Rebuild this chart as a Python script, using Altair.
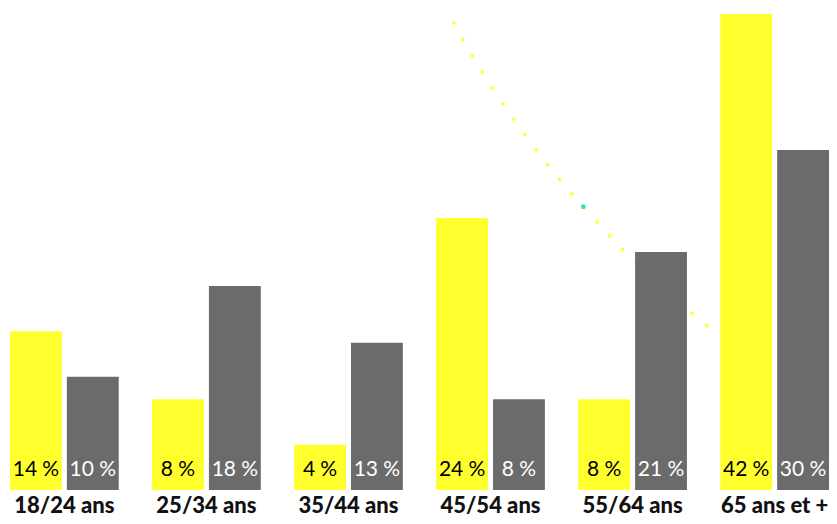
import altair as alt
import pandas as pd

categories = ["18/24 ans", "25/34 ans", "35/44 ans", "45/54 ans", "55/64 ans", "65 ans et +"]
series_names = ["Série 1", "Série 2"]
values_1 = [14, 8, 4, 24, 8, 42]
values_2 = [10, 18, 13, 8, 21, 30]

# decorative dotted curve, in (category index, percent) units
trend_x = [2.677, 2.874, 3.016, 3.248, 3.409, 3.653, 3.833, 4.018, 4.419, 4.521, 5.397]
trend_y = [42.68, 38.27, 35.41, 31.26, 28.59, 25.0, 22.5, 20.12, 15.59, 14.53, 6.97]
marker_x = [3.653]
marker_y = [25.0]

rows = []
for c, a, b in zip(categories, values_1, values_2):
    rows.append({"cat": c, "series": series_names[0], "value": a, "label": f"{a}\u202f%"})
    rows.append({"cat": c, "series": series_names[1], "value": b, "label": f"{b}\u202f%"})
df = pd.DataFrame(rows)
trend = pd.DataFrame({"tx": trend_x, "ty": trend_y})
marker = pd.DataFrame({"tx": marker_x, "ty": marker_y})

YELLOW = "#ffff2e"
GREY = "#6b6b6b"

yscale = alt.Scale(domain=[0, 42], nice=False, zero=True)
xq = alt.Scale(domain=[-0.3827, 5.3827], nice=False, zero=False)
xband = alt.Scale(paddingInner=0.2346, paddingOuter=0)
xoff = alt.Scale(domain=series_names, paddingInner=0.088, paddingOuter=0)

line = alt.Chart(trend).mark_line(
    color=YELLOW, strokeWidth=3.5, strokeCap="round", strokeDash=[0.1, 18.8],
    interpolate="monotone", clip=False
).encode(
    x=alt.X("tx:Q", scale=xq, axis=None),
    y=alt.Y("ty:Q", scale=yscale, axis=None),
)
dot = alt.Chart(marker).mark_point(
    filled=True, color="#2fe0c0", size=22, opacity=1, clip=False
).encode(
    x=alt.X("tx:Q", scale=xq, axis=None),
    y=alt.Y("ty:Q", scale=yscale, axis=None),
)
deco = alt.layer(line, dot)

bars = alt.Chart(df).mark_bar().encode(
    x=alt.X("cat:N", sort=categories, scale=xband, title=None),
    xOffset=alt.XOffset("series:N", scale=xoff, sort=series_names),
    y=alt.Y("value:Q", scale=yscale, axis=None),
    color=alt.Color("series:N", scale=alt.Scale(domain=series_names, range=[YELLOW, GREY]), legend=None),
)
texts = alt.Chart(df).mark_text(
    baseline="alphabetic", dy=-14, fontSize=21, font="Lato", fontWeight=400
).encode(
    x=alt.X("cat:N", sort=categories, scale=xband, title=None),
    xOffset=alt.XOffset("series:N", scale=xoff, sort=series_names),
    y=alt.datum(0),
    text="label:N",
    color=alt.Color("series:N", scale=alt.Scale(domain=series_names, range=["#000000", "#ffffff"]), legend=None),
)
main = alt.layer(bars, texts).resolve_scale(color="independent")

chart = alt.layer(deco, main).resolve_scale(x="independent").properties(
    width=819, height=476,
    autosize=alt.AutoSizeParams(type="none"),
    padding={"left": 2, "top": 6, "right": 0, "bottom": 26},
).configure_view(stroke=None).configure_axisX(
    labelAngle=0, ticks=False, domain=False, grid=False,
    labelFont="Lato", labelFontSize=22, labelFontWeight=900,
    labelColor="#111111", labelPadding=5,
)

chart.save("out.html", embed_options={"renderer": "svg", "actions": False})
